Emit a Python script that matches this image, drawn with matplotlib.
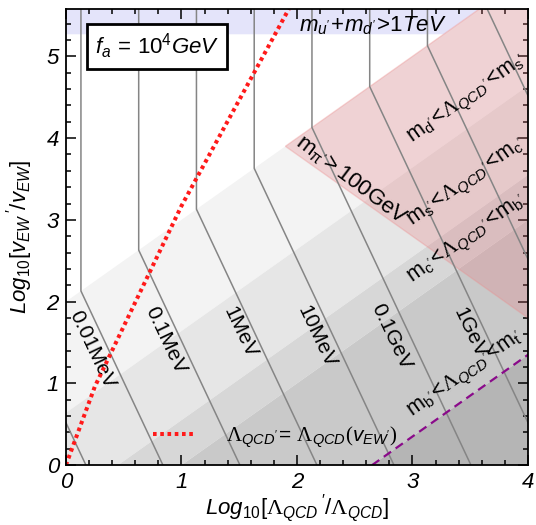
import numpy as np
import matplotlib
matplotlib.use("Agg")
import matplotlib.pyplot as plt
from matplotlib.ticker import MultipleLocator

plt.rcParams['font.family'] = ['Liberation Sans', 'DejaVu Sans']
plt.rcParams['mathtext.fontset'] = 'custom'
plt.rcParams['mathtext.rm'] = 'Liberation Sans'
plt.rcParams['mathtext.it'] = 'Liberation Sans:italic'
plt.rcParams['mathtext.sf'] = 'Liberation Sans'
plt.rcParams['mathtext.cal'] = 'Liberation Serif'

# -----------------------------
# Data (log10 units)
# -----------------------------
x_max = 4.0
y_max = 5.58

# quark thresholds Lambda_QCD' = m_q'  ->  y = x + c
band_offsets = [2.0, 0.64, -0.45, -1.0, -2.65]          # u, s, c, b, t
band_grays = ['#f3f3f3', '#e6e6e6', '#d7d7d7', '#c9c9c9', '#b5b5b5']
band_texts = [r"$\mathsf{m_{d'}}\!<\!\mathcal{\Lambda}_{QCD'}\!<\!\mathsf{m_{s'}}$",
              r"$\mathsf{m_{s'}}\!<\!\mathcal{\Lambda}_{QCD'}\!<\!\mathsf{m_{c'}}$",
              r"$\mathsf{m_{c'}}\!<\!\mathcal{\Lambda}_{QCD'}\!<\!\mathsf{m_{b'}}$",
              r"$\mathsf{m_{b'}}\!<\!\mathcal{\Lambda}_{QCD'}\!<\!\mathsf{m_{t'}}$"]
band_text_pos = [(2.996, 3.94), (2.996, 2.92), (2.996, 2.23), (3.0, 0.59)]

# axion mass contours: vertical at x0 in the white region, slope -3 below
mass_x0 = [-0.37, 0.13, 0.63, 1.13, 1.63, 2.13, 2.63, 3.13, 3.63]
mass_labels = ["0.01MeV", "0.1MeV", "1MeV", "10MeV", "0.1GeV", "1GeV"]
mass_label_pos = [(0.225, 1.41), (0.866, 1.53), (1.506, 1.63),
                  (2.17, 1.57), (2.82, 1.57), (3.50, 1.62)]

# Lambda_QCD' = Lambda_QCD(v_EW')
lam_x = [0.0, 0.25, 1.0, 1.93]
lam_y = [0.0, 0.96, 3.17, 5.58]

# excluded regions
pion_sum = 5.8        # m_pi' = 100 GeV :  x + y = 5.8
quark_tev_y = 5.27    # m_u' + m_d' = 1 TeV

# -----------------------------
# Plot
# -----------------------------
fig = plt.figure(figsize=(5.36, 5.25), dpi=100)
ax = fig.add_axes([0.123, 0.114, 0.862, 0.869])

xs = np.array([-1.0, 5.0])
for i, c in enumerate(band_offsets):
    lower = xs + band_offsets[i + 1] if i + 1 < len(band_offsets) else xs * 0 - 10
    ax.fill_between(xs, lower, xs + c, color=band_grays[i], lw=0, zorder=1)

# blue: m_u'+m_d' > 1TeV (white region only)
c_u = band_offsets[0]
ax.fill([0, quark_tev_y - c_u, y_max - c_u, 0],
        [quark_tev_y, quark_tev_y, y_max, y_max],
        color='#e4e4fa', lw=0, zorder=1.5)

# pink: m_pi' > 100GeV
xl = (pion_sum - c_u) / 2
ax.fill([xl, y_max - c_u, x_max, x_max],
        [xl + c_u, y_max, y_max, pion_sum - x_max],
        facecolor=(0.9, 0.45, 0.48, 0.25), edgecolor=(0.93, 0.55, 0.55, 0.35),
        lw=1, zorder=2)

# contours
for x0 in mass_x0:
    ax.plot([x0, x0, x0 + (x0 + c_u) / 3], [y_max, x0 + c_u, 0],
            color='#858585', lw=1.1, zorder=3)

for lab, (lx, ly) in zip(mass_labels, mass_label_pos):
    ax.text(lx, ly, lab, fontsize=15, rotation=-64.7, ha='center', va='center',
            zorder=4)

ang = np.degrees(np.arctan(81.6 / 115.5))
for lab, (lx, ly) in zip(band_texts, band_text_pos):
    ax.text(lx, ly, lab, fontsize=15.5, rotation=ang, ha='left', va='baseline',
            rotation_mode='anchor', zorder=4, clip_on=True)

ax.text(2.47, 3.48, r"$\mathsf{m_{\pi'}}\!\mathsf{>100GeV}$", fontsize=16,
        rotation=-37, ha='center', va='center', zorder=4)

# purple: Lambda_QCD' = m_t'
c_t = band_offsets[-1]
ax.plot([-c_t, x_max], [0, x_max + c_t], color='#8a0a8a', lw=1.6,
        dashes=(4, 2.5), zorder=5)

line, = ax.plot(lam_x, lam_y, color='#ff1a1a', lw=2.9, dashes=(0.9, 0.9),
                zorder=6, label=r"$\mathcal{\Lambda}_{QCD'}\!=\,\mathcal{\Lambda}_{QCD}\mathcal{(}v_{EW'}\mathcal{)}$")

ax.legend(handles=[line], loc='center left', bbox_to_anchor=(0.188, 0.061),
          frameon=False, fontsize=15, handlelength=2.0, handletextpad=1.5,
          borderpad=0, borderaxespad=0)

ax.text(0.197, 0.918, r"$f_a\,=\,\mathit{10^4GeV}$", transform=ax.transAxes,
        fontsize=16, ha='center', va='center', zorder=7,
        bbox=dict(boxstyle='square,pad=0.35', fc='white', ec='black', lw=2))

ax.text(0.665, 0.963, r"$m_{u'}\!+\!m_{d'}\!>\!\mathit{1TeV}$", transform=ax.transAxes,
        fontsize=16, ha='center', va='center', zorder=7)

ax.set_xlim(0, x_max)
ax.set_ylim(0, y_max)
ax.xaxis.set_major_locator(MultipleLocator(1))
ax.xaxis.set_minor_locator(MultipleLocator(0.2))
ax.yaxis.set_major_locator(MultipleLocator(1))
ax.yaxis.set_minor_locator(MultipleLocator(0.2))
ax.tick_params(which='both', direction='in', top=True, right=True, width=1.1)
ax.tick_params(which='major', length=7, labelsize=16, pad=5)
ax.tick_params(which='minor', length=3.5)
for t in ax.get_xticklabels() + ax.get_yticklabels():
    t.set_fontstyle('italic')
for s in ax.spines.values():
    s.set_linewidth(1.3)
    s.set_zorder(8)

ax.set_xlabel(r"$Log_{\mathit{10}}[\mathcal{\Lambda}_{QCD}\,'/\mathcal{\Lambda}_{QCD}]$",
              fontsize=16)
ax.xaxis.set_label_coords(0.5, -0.058)
ax.set_ylabel(r"$Log_{\mathit{10}}[v_{EW}\,'/v_{EW}]$", fontsize=16, labelpad=8)

fig.savefig("out.png", dpi=100)
